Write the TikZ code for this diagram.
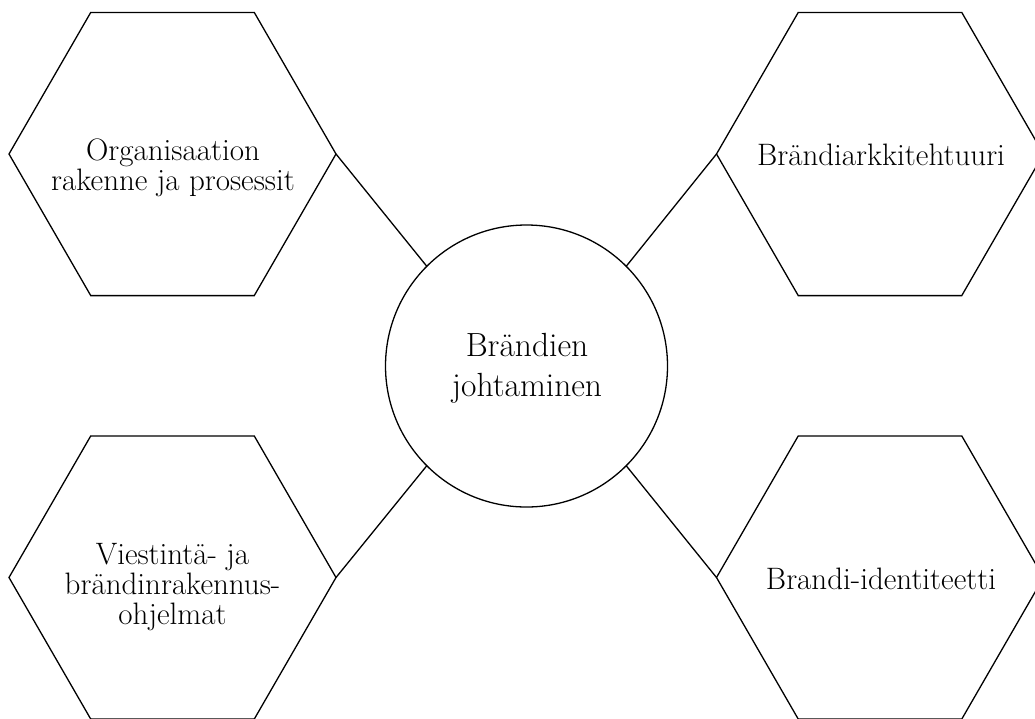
\documentclass[tikz,border=0pt]{standalone}
\usepackage{fontspec}
\usetikzlibrary{shapes.geometric}
\begin{document}
\begin{tikzpicture}[x=1pt,y=-1pt,
  hexbox/.style={draw, line width=1.3pt, regular polygon, regular polygon sides=6,
    minimum size=327pt, inner sep=0pt, outer sep=0pt},
  hextext/.style={inner sep=0pt, align=center, font=\fontsize{31}{30}\selectfont},
  hubbox/.style={draw, line width=1.3pt, circle, minimum size=282pt, inner sep=0pt,
    outer sep=0pt},
  hubtext/.style={inner sep=0pt, align=center, font=\fontsize{33.5}{40}\selectfont},
  link/.style={line width=1.3pt}]
\clip (0,0) rectangle (1035,718);
\node[hexbox] (tl) at (172.5,154) {};
\node[hexbox] (tr) at (880,154) {};
\node[hexbox] (bl) at (172.5,577.5) {};
\node[hexbox] (br) at (880,577.5) {};
\node[hextext] (tlt) at (173,168) {Organisaation\\rakenne ja prosessit};
\node[hextext] (trt) at (881,155) {Brändiarkkitehtuuri};
\node[hextext] (blt) at (172.5,587) {Viestintä- ja\\brändinrakennus-\\ohjelmat};
\node[hextext] (brt) at (881,579) {Brandi-identiteetti};
\node[hubbox] (hub) at (526.5,366) {};
\node[hubtext] (hubt) at (527,368) {Brändien\\johtaminen};
\draw[link] (tl.0) -- (hub.135);
\draw[link] (tr.180) -- (hub.45);
\draw[link] (bl.0) -- (hub.225);
\draw[link] (br.180) -- (hub.315);
\end{tikzpicture}
\end{document}
